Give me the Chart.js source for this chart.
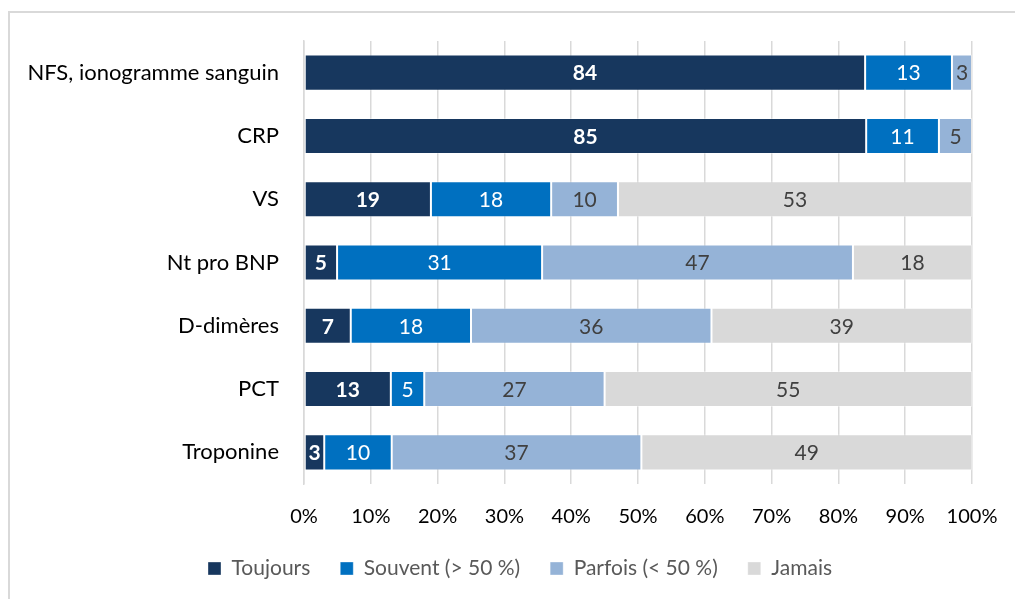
<!DOCTYPE html>
<html>
<head>
<meta charset="utf-8">
<script src="https://cdn.jsdelivr.net/npm/chart.js@4"></script>
<style>
  body { margin: 0; background: #fff; overflow: hidden; }
  .frame { position: absolute; left: 8px; top: 11px; width: 1100px; height: 700px; border: 2px solid #d9d9d9; }
  .wrap { position: absolute; left: 0; top: 0; width: 1015px; height: 599px; }
</style>
</head>
<body>
<div class="frame"></div>
<div class="wrap"><canvas id="chart"></canvas></div>
<script>
// categories and values (percent)
const categories = ["NFS, ionogramme sanguin", "CRP", "VS", "Nt pro BNP", "D-dimères", "PCT", "Troponine"];
const toujours = [84, 85, 19, 5, 7, 13, 3];
const souvent = [13, 11, 18, 31, 18, 5, 10];
const parfois = [3, 5, 10, 47, 36, 27, 37];
const jamais = [0, 0, 53, 18, 39, 55, 49];
const seriesNames = ["Toujours", "Souvent (> 50 %)", "Parfois (< 50 %)", "Jamais"];
const tickLabels = ["0%", "10%", "20%", "30%", "40%", "50%", "60%", "70%", "80%", "90%", "100%"];

const colors = ["#17375e", "#0070c0", "#95b3d7", "#d9d9d9"];
const labelColors = ["#ffffff", "#ffffff", "#404040", "#404040"];
const labelBold = [true, false, false, false];

// totaux par ligne pour mettre a 100 %
const rows = [toujours, souvent, parfois, jamais];
const totals = categories.map((c, i) => rows.reduce((s, r) => s + r[i], 0));

const datasets = rows.map((vals, k) => ({
  label: seriesNames[k],
  data: vals.map((v, i) => (v / totals[i]) * 100),
  raw: vals,
  backgroundColor: colors[k],
  borderColor: "rgba(255,255,255,0.35)",
  borderWidth: 1,
  borderSkipped: false,
  barPercentage: 0.57,
  categoryPercentage: 1,
}));

// valeurs au milieu des barres
const valueLabels = {
  id: "valueLabels",
  afterDatasetsDraw(chart) {
    const ctx = chart.ctx;
    chart.data.datasets.forEach((ds, k) => {
      const meta = chart.getDatasetMeta(k);
      if (meta.hidden) return;
      meta.data.forEach((bar, i) => {
        const v = ds.raw[i];
        if (!v) return;
        const x = (bar.x + bar.base) / 2;
        ctx.save();
        ctx.font = (labelBold[k] ? "bold " : "") + "21px Lato";
        ctx.textAlign = "center";
        ctx.textBaseline = "middle";
        if (labelBold[k]) {
          ctx.lineWidth = 2;
          ctx.strokeStyle = "#17375e";
          ctx.strokeText(String(v), x, bar.y + 1);
        }
        ctx.fillStyle = labelColors[k];
        ctx.fillText(String(v), x, bar.y + 1);
        ctx.restore();
      });
    });
  },
};

// decaler la legende un peu vers la droite
const legendShift = {
  id: "legendShift",
  afterLayout(chart) {
    chart.legend.left += 34;
    chart.legend.right += 34;
  },
};

Chart.defaults.font.family = "Lato";
Chart.defaults.color = "#000";

new Chart(document.getElementById("chart"), {
  type: "bar",
  data: { labels: categories, datasets: datasets },
  options: {
    indexAxis: "y",
    responsive: true,
    maintainAspectRatio: false,
    animation: false,
    layout: { padding: { top: 41, right: 43, left: 0, bottom: 10 } },
    plugins: {
      legend: {
        position: "bottom",
        labels: {
          boxWidth: 13,
          boxHeight: 13,
          padding: 30,
          color: "#595959",
          font: { size: 21 },
        },
      },
      tooltip: { enabled: false },
    },
    scales: {
      x: {
        stacked: true,
        min: 0,
        max: 100,
        grid: { color: "#d9d9d9", lineWidth: 1.5, drawTicks: false },
        border: { display: false },
        ticks: {
          stepSize: 10,
          padding: 21,
          font: { size: 20 },
          color: "#000",
          callback: (v, i) => tickLabels[i],
        },
        afterFit: (scale) => {
          scale.height = 44;
          scale.paddingLeft = 0;
          scale.paddingRight = 0;
        },
      },
      y: {
        stacked: true,
        grid: { display: false },
        border: { display: true, color: "#d9d9d9", width: 1.5 },
        ticks: { padding: 17, font: { size: 22 }, color: "#000" },
        afterFit: (scale) => { scale.width = 304; },
      },
    },
  },
  plugins: [valueLabels, legendShift],
});
</script>
</body>
</html>
